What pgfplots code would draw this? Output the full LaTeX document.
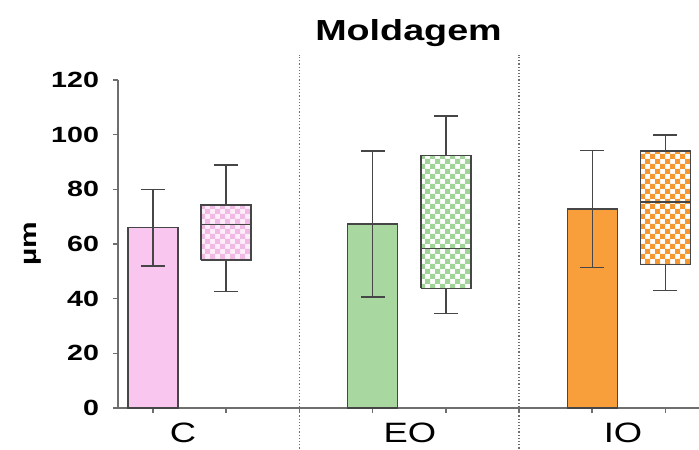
\documentclass[border=0pt]{standalone}
\usepackage{fontspec}
\setmainfont{Liberation Sans}[FakeStretch=1.3]
\usepackage{pgfplots}
\pgfplotsset{compat=1.18}
\usetikzlibrary{patterns}
\pgfdeclarepatternformonly{smallcheck}{\pgfqpoint{-.1pt}{-.1pt}}{\pgfqpoint{5.1pt}{5.1pt}}{\pgfqpoint{5pt}{5pt}}{
  \pgfpathrectangle{\pgfqpoint{0pt}{0pt}}{\pgfqpoint{2.55pt}{2.55pt}}
  \pgfpathrectangle{\pgfqpoint{2.5pt}{2.5pt}}{\pgfqpoint{2.55pt}{2.55pt}}
  \pgfusepath{fill}}
\definecolor{pinkfill}{RGB}{248,198,238}
\definecolor{pinkbg}{RGB}{253,238,250}
\definecolor{pinkpat}{RGB}{240,186,228}
\definecolor{greenfill}{RGB}{168,216,160}
\definecolor{greenpat}{RGB}{160,212,152}
\definecolor{orangefill}{RGB}{248,158,58}
\definecolor{orangepat}{RGB}{245,152,50}
\definecolor{edge}{RGB}{70,70,70}
\definecolor{axisgray}{RGB}{110,110,110}
\pgfplotsset{
  errstyle/.style={only marks, mark=*, mark size=0pt,
    error bars/.cd, y dir=both, y explicit,
    error bar style={edge, line width=0.7pt},
    error mark options={rotate=90, edge, mark size=6pt, line width=0.7pt}},
  barstyle/.style={ybar, bar width=0.683, bar shift=0pt, fill=#1, draw=edge, line width=0.7pt},
  boxstyle/.style 2 args={draw=edge, line width=0.7pt, fill=#2, mark=none,
    postaction={pattern=smallcheck, pattern color=#1}},
  medstyle/.style={draw=edge, line width=0.8pt, mark=none},
}
\begin{document}
\begin{tikzpicture}
\path[use as bounding box] (-59pt,-20.5pt) rectangle (290.5pt,204pt);
\begin{axis}[
  at={(0,0)}, anchor=south west,
  scale only axis, width=290.5pt, height=164pt,
  xmin=-0.478, xmax=7.459, ymin=0, ymax=120,
  axis lines=left, axis line style={-, axisgray, line width=0.8pt},
  clip=false,
  tick align=outside, major tick length=2.5pt,
  tick style={axisgray, line width=0.8pt},
  ytick={0,20,...,120},
  /pgf/number format/assume math mode=true,
  yticklabel style={font=\fontsize{11}{13}\selectfont\bfseries, xshift=-3.5pt},
  xtick={0,1,2,3,4,5,6,7}, xticklabels={},
  extra x ticks={0.41,3.51,6.42},
  extra x tick labels={C,EO,IO},
  extra x tick style={major tick length=0pt, tick style={draw=none},
    xticklabel style={font=\fontsize{14}{16}\selectfont, yshift=-4pt}},
  ylabel={µm},
  ylabel style={font=\fontsize{11.5}{13}\selectfont\bfseries, at={(axis description cs:-0.1463,0.5)}, anchor=center},
  title={Moldagem},
  every axis title shift=0pt,
  title style={font=\fontsize{14.5}{16}\selectfont\bfseries, at={(axis description cs:0.5,1)}, anchor=base, yshift=19.5pt},
]
% separators
\addplot[axisgray, densely dotted, line width=0.6pt] coordinates {(2,-16) (2,129.2)};
\addplot[axisgray, densely dotted, line width=0.6pt] coordinates {(5,-16) (5,129.2)};
% bars with error bars (mean +- error)
\addplot[barstyle=pinkfill] coordinates {(0,66)};
\addplot[errstyle] coordinates {(0,66) +- (0,14)};
\addplot[barstyle=greenfill] coordinates {(3,67.3)};
\addplot[errstyle] coordinates {(3,67.3) +- (0,26.7)};
\addplot[barstyle=orangefill] coordinates {(6,72.8)};
\addplot[errstyle] coordinates {(6,72.8) +- (0,21.3)};
% box plots: whiskers, box q1-q3, median
% C: 42.6, 54.2, 67.2, 74.3, 88.9
\addplot[errstyle] coordinates {(1,67.2) += (0,21.7) -= (0,24.6)};
\addplot[boxstyle={pinkpat}{pinkbg}] coordinates {(0.6585,54.2) (1.3415,54.2) (1.3415,74.3) (0.6585,74.3) (0.6585,54.2)};
\addplot[medstyle] coordinates {(0.6585,67.2) (1.3415,67.2)};
% EO: 34.6, 43.8, 58.4, 92.3, 106.8
\addplot[errstyle] coordinates {(4,58.4) += (0,48.4) -= (0,23.8)};
\addplot[boxstyle={greenpat}{white}] coordinates {(3.6585,43.8) (4.3415,43.8) (4.3415,92.3) (3.6585,92.3) (3.6585,43.8)};
\addplot[medstyle] coordinates {(3.6585,58.4) (4.3415,58.4)};
% IO: 42.9, 52.6, 75.3, 94.0, 99.9
\addplot[errstyle] coordinates {(7,75.3) += (0,24.6) -= (0,32.4)};
\addplot[boxstyle={orangepat}{white}] coordinates {(6.6585,52.6) (7.3415,52.6) (7.3415,94.0) (6.6585,94.0) (6.6585,52.6)};
\addplot[medstyle] coordinates {(6.6585,75.3) (7.3415,75.3)};
\end{axis}
\end{tikzpicture}
\end{document}
